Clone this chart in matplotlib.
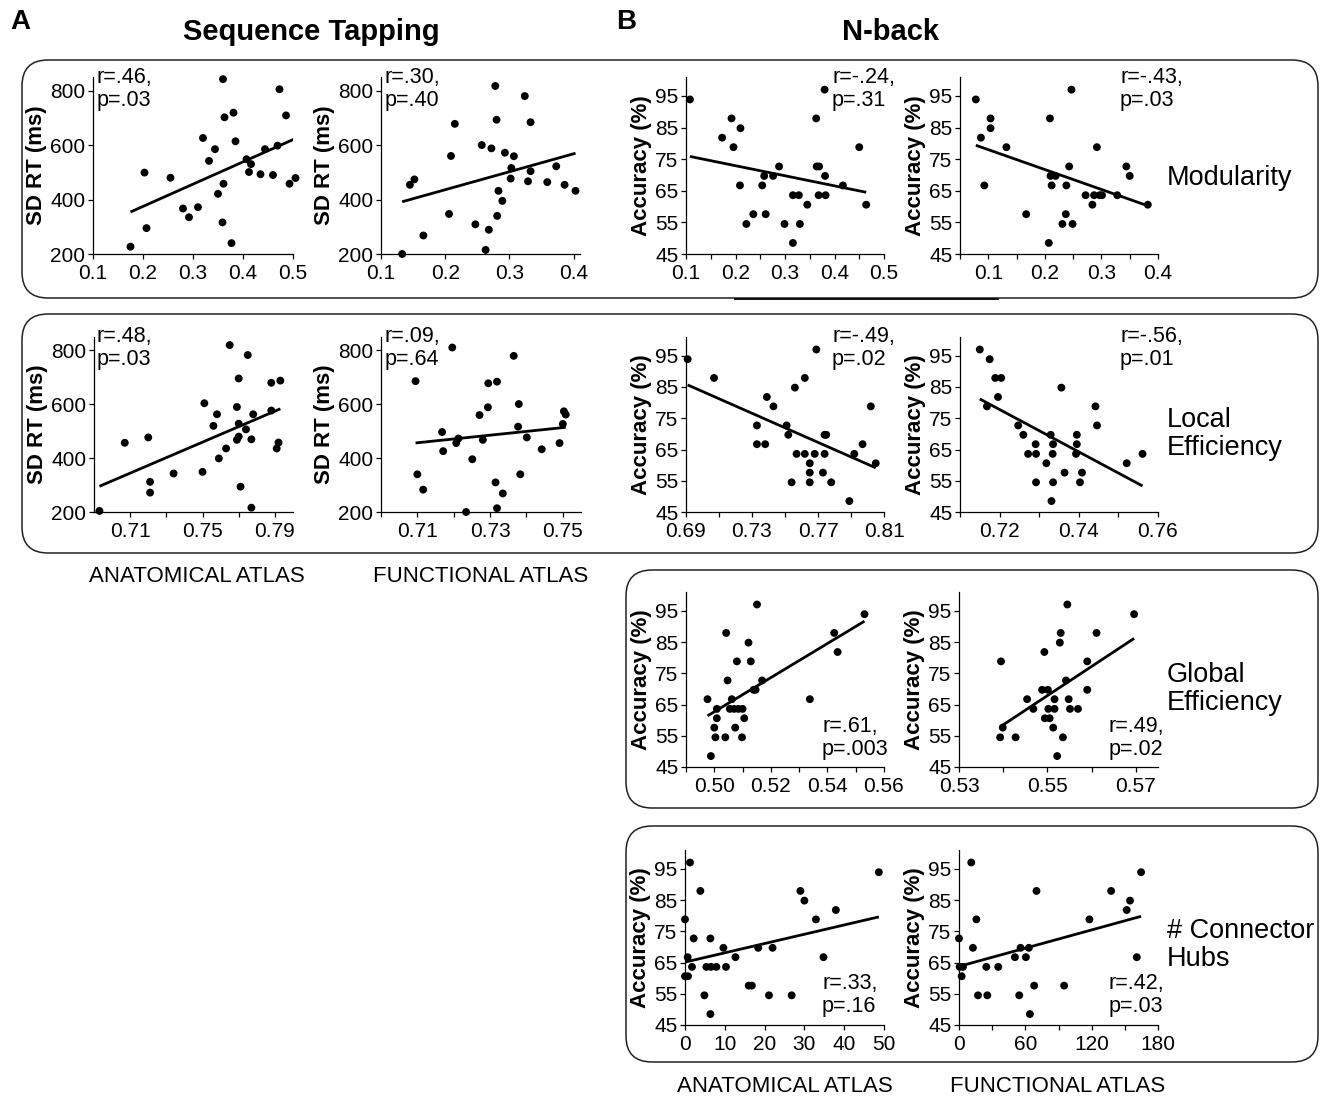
import numpy as np
import matplotlib.pyplot as plt
from matplotlib.patches import FancyBboxPatch

plt.rcParams['font.family'] = ['Liberation Sans', 'DejaVu Sans']

W, H = 1332, 1099

# ---- Sequence tapping (SD RT, ms) ----
seq_mod_anat_x = [0.175, 0.207, 0.203, 0.255, 0.280, 0.292, 0.310, 0.320, 0.332, 0.344, 0.350, 0.360, 0.363, 0.361, 0.359,
                  0.377, 0.381, 0.385, 0.407, 0.416, 0.412, 0.435, 0.444, 0.460, 0.469, 0.473, 0.486, 0.493, 0.505]
seq_mod_anat_y = [227, 295, 499, 480, 367, 335, 372, 626, 542, 585, 421, 842, 702, 458, 316,
                  240, 719, 614, 548, 530, 501, 493, 585, 490, 598, 805, 709, 458, 479]

seq_mod_func_x = [0.133, 0.145, 0.152, 0.166, 0.206, 0.209, 0.215, 0.247, 0.257, 0.263, 0.268, 0.272, 0.278, 0.280, 0.281,
                  0.283, 0.289, 0.293, 0.303, 0.302, 0.307, 0.324, 0.329, 0.333, 0.333, 0.359, 0.373, 0.386, 0.403]
seq_mod_func_y = [200, 454, 474, 268, 347, 560, 678, 309, 600, 215, 289, 588, 817, 693, 340,
                  432, 395, 572, 516, 477, 559, 780, 467, 684, 504, 464, 522, 454, 432]

seq_loc_anat_x = [0.693, 0.707, 0.720, 0.721, 0.721, 0.734, 0.750, 0.751, 0.756, 0.758, 0.759, 0.763, 0.765, 0.769, 0.770,
                  0.770, 0.769, 0.770, 0.771, 0.774, 0.775, 0.777, 0.778, 0.777, 0.788, 0.788, 0.791, 0.792, 0.793]
seq_loc_anat_y = [204, 457, 477, 312, 272, 343, 349, 604, 520, 563, 399, 436, 820, 590, 528,
                  480, 468, 696, 294, 507, 783, 470, 563, 216, 680, 577, 436, 458, 688]

seq_loc_func_x = [0.7095, 0.7100, 0.7116, 0.7168, 0.7171, 0.7196, 0.7207, 0.7213, 0.7234, 0.7251, 0.7271, 0.7280, 0.7294, 0.7295,
                  0.7315, 0.7319, 0.7319, 0.7335, 0.7365, 0.7377, 0.7379, 0.7383, 0.7401, 0.7442, 0.7491, 0.7500, 0.7503, 0.7508]
seq_loc_func_y = [686, 340, 283, 497, 426, 811, 456, 473, 200, 396, 560, 468, 589, 678,
                  310, 684, 214, 269, 780, 517, 601, 340, 477, 433, 456, 527, 574, 562]

# ---- N-back (accuracy, %) ----
nb_mod_anat_x = [0.108, 0.173, 0.192, 0.196, 0.210, 0.209, 0.222, 0.236, 0.254, 0.258, 0.261, 0.276, 0.288, 0.299, 0.316,
                 0.316, 0.328, 0.330, 0.345, 0.363, 0.364, 0.369, 0.368, 0.380, 0.381, 0.382, 0.417, 0.450, 0.464]
nb_mod_anat_y = [93.9, 81.8, 87.9, 78.8, 84.8, 66.7, 54.5, 57.6, 66.7, 69.7, 57.6, 69.7, 72.7, 54.5, 63.6,
                 48.5, 63.6, 54.5, 60.6, 87.9, 72.7, 72.7, 63.6, 97.0, 69.7, 63.6, 66.7, 78.8, 60.6]

nb_mod_func_x = [0.078, 0.087, 0.093, 0.104, 0.104, 0.132, 0.167, 0.207, 0.209, 0.210, 0.212, 0.219, 0.231, 0.237,
                 0.238, 0.243, 0.247, 0.249, 0.272, 0.284, 0.287, 0.292, 0.297, 0.301, 0.328, 0.344, 0.350, 0.382]
nb_mod_func_y = [93.9, 81.8, 66.7, 87.9, 84.8, 78.8, 57.6, 48.5, 87.9, 69.7, 66.7, 69.7, 54.5, 57.6,
                 66.7, 72.7, 97.0, 54.5, 63.6, 60.6, 63.6, 78.8, 63.6, 63.6, 63.6, 72.7, 69.7, 60.6]

nb_loc_anat_x = [0.691, 0.707, 0.733, 0.733, 0.738, 0.739, 0.743, 0.751, 0.752, 0.754, 0.756, 0.757, 0.762, 0.762, 0.765,
                 0.765, 0.765, 0.768, 0.769, 0.774, 0.775, 0.774, 0.773, 0.778, 0.789, 0.792, 0.797, 0.802, 0.805]
nb_loc_anat_y = [93.9, 87.9, 72.7, 66.7, 66.7, 81.8, 78.8, 72.7, 69.7, 54.5, 84.8, 63.6, 87.9, 63.6, 60.6,
                 57.6, 54.5, 63.6, 97.0, 69.7, 69.7, 63.6, 57.6, 54.5, 48.5, 63.6, 66.7, 78.8, 60.6]

nb_loc_func_x = [0.7150, 0.7175, 0.7168, 0.7189, 0.7204, 0.7196, 0.7247, 0.7260, 0.7272, 0.7291, 0.7292, 0.7292, 0.7318, 0.7329,
                 0.7331, 0.7334, 0.7335, 0.7335, 0.7356, 0.7364, 0.7395, 0.7395, 0.7393, 0.7403, 0.7408, 0.7442, 0.7446,
                 0.7521, 0.7561]
nb_loc_func_y = [97.0, 93.9, 78.8, 87.9, 87.9, 81.8, 72.7, 69.7, 63.6, 66.7, 63.6, 54.5, 60.6, 69.7,
                 48.5, 63.6, 66.7, 54.5, 84.8, 57.6, 69.7, 66.7, 63.6, 54.5, 57.6, 78.8, 72.7, 60.6, 63.6]

nb_glob_anat_x = [0.4976, 0.4988, 0.5000, 0.5004, 0.5009, 0.5009, 0.5039, 0.5042, 0.5047, 0.5062, 0.5055, 0.5070, 0.5085, 0.5074,
                  0.5080, 0.5100, 0.5098, 0.5106, 0.5121, 0.5129, 0.5139, 0.5146, 0.5151, 0.5169, 0.5338, 0.5424, 0.5436, 0.5531]
nb_glob_anat_y = [66.7, 48.5, 57.6, 54.5, 63.6, 60.6, 54.5, 87.9, 72.7, 66.7, 63.6, 63.6, 63.6, 57.6,
                  78.8, 63.6, 54.5, 60.6, 84.8, 78.8, 69.7, 69.7, 97.0, 72.7, 66.7, 87.9, 81.8, 93.9]

nb_glob_func_x = [0.5393, 0.5395, 0.5399, 0.5428, 0.5454, 0.5468, 0.5488, 0.5493, 0.5494, 0.5501, 0.5502, 0.5505, 0.5513, 0.5516,
                  0.5516, 0.5522, 0.5528, 0.5530, 0.5535, 0.5542, 0.5545, 0.5548, 0.5551, 0.5569, 0.5590, 0.5590, 0.5611, 0.5696]
nb_glob_func_y = [54.5, 78.8, 57.6, 54.5, 66.7, 63.6, 69.7, 81.8, 60.6, 69.7, 63.6, 60.6, 57.6, 66.7,
                  63.6, 48.5, 84.8, 87.9, 54.5, 72.7, 97.0, 66.7, 63.6, 63.6, 78.8, 69.7, 87.9, 93.9]

nb_hub_anat_x = [0, 0, 0.75, 0.67, 1.26, 1.76, 2.18, 3.86, 4.87, 5.37, 6.38, 6.38, 6.54, 7.89, 9.65,
                 10.3, 12.67, 16.0, 16.8, 18.4, 21.1, 22.0, 26.8, 29.0, 30.0, 32.9, 34.8, 37.9, 48.7]
nb_hub_anat_y = [78.8, 60.6, 60.6, 66.7, 97.0, 63.6, 72.7, 87.9, 54.5, 63.6, 72.7, 48.5, 63.6, 63.6, 69.7,
                 63.6, 66.7, 57.6, 57.6, 69.7, 54.5, 69.7, 54.5, 87.9, 84.8, 78.8, 66.7, 81.8, 93.9]

nb_hub_func_x = [0, 0.6, 2.4, 3.6, 11.1, 12.6, 15.7, 17.2, 24.7, 25.6, 35.5, 50.6, 54.5, 55.7, 60.5, 63.2, 64.1,
                 68.0, 70.1, 95.1, 118.0, 137.6, 151.7, 154.7, 160.8, 164.7]
nb_hub_func_y = [72.7, 63.6, 60.6, 63.6, 97.0, 69.7, 78.8, 54.5, 63.6, 54.5, 63.6, 66.7, 54.5, 69.7, 66.7, 69.7, 48.5,
                 57.6, 87.9, 57.6, 78.8, 87.9, 81.8, 84.8, 66.7, 93.9]

rt_ticks = [200, 400, 600, 800]
acc_ticks = [45, 55, 65, 75, 85, 95]

fig = plt.figure(figsize=(W / 100, H / 100), dpi=100)

# overlay in pixel coordinates for boxes and free text
bg = fig.add_axes([0, 0, 1, 1], zorder=0)
bg.set_xlim(0, W)
bg.set_ylim(H, 0)
bg.axis('off')

for (x0, y0, x1, y1) in [(22, 60, 1318, 298), (22, 314, 1318, 553),
                         (626, 570, 1318, 808), (626, 826, 1318, 1062)]:
    bg.add_patch(FancyBboxPatch((x0, y0), x1 - x0, y1 - y0,
                                boxstyle="round,pad=0,rounding_size=26",
                                fc='none', ec='#222222', lw=1.1))
bg.plot([735, 998], [299, 299], color='k', lw=1.3)


def add_panel(box, x, y, xlim, xticks, xlabels, kind, stat, stat_xy):
    l, t, r, b = box
    ax = fig.add_axes([l / W, 1 - b / H, (r - l) / W, (b - t) / H], zorder=2)
    ax.set_facecolor('none')
    x = np.asarray(x)
    y = np.asarray(y)
    ax.scatter(x, y, s=32, c='k', edgecolors='none', zorder=3, clip_on=False)
    k, c = np.polyfit(x, y, 1)
    xs = np.array([x.min(), x.max()])
    ax.plot(xs, k * xs + c, color='k', lw=2, solid_capstyle='butt')
    ax.set_xlim(*xlim)
    ax.set_xticks(xticks)
    ax.set_xticklabels(xlabels)
    if kind == 'rt':
        ax.set_ylim(200, 850)
        ax.set_yticks(rt_ticks)
        ax.set_ylabel('SD RT (ms)', fontsize=16, fontweight='bold', labelpad=2)
    else:
        ax.set_ylim(45, 101)
        ax.set_yticks(acc_ticks)
        ax.set_ylabel('Accuracy (%)', fontsize=16, fontweight='bold', labelpad=2)
    for s in ['top', 'right']:
        ax.spines[s].set_visible(False)
    for s in ['left', 'bottom']:
        ax.spines[s].set_linewidth(0.9)
    ax.tick_params(direction='out', length=3.5, width=0.9, labelsize=15)
    ax.tick_params(axis='x', pad=4)
    ax.tick_params(axis='y', pad=2)
    bg.text(stat_xy[0], stat_xy[1], stat, fontsize=15.5, va='top', ha='left', linespacing=1.1)
    return ax


# row 1: modularity
add_panel((93, 77, 293, 254), seq_mod_anat_x, seq_mod_anat_y, (0.1, 0.5),
          [0.1, 0.2, 0.3, 0.4, 0.5], ['0.1', '0.2', '0.3', '0.4', '0.5'], 'rt', 'r=.46,\np=.03', (97, 67))
add_panel((381, 77, 580, 254), seq_mod_func_x, seq_mod_func_y, (0.1, 0.41),
          [0.1, 0.2, 0.3, 0.4], ['0.1', '0.2', '0.3', '0.4'], 'rt', 'r=.30,\np=.40', (385, 67))
add_panel((686, 77, 884, 254), nb_mod_anat_x, nb_mod_anat_y, (0.1, 0.5),
          [0.1, 0.15, 0.2, 0.25, 0.3, 0.35, 0.4, 0.45, 0.5],
          ['0.1', '', '0.2', '', '0.3', '', '0.4', '', '0.5'], 'acc', 'r=-.24,\np=.31', (832, 67))
add_panel((960, 77, 1158, 254), nb_mod_func_x, nb_mod_func_y, (0.05, 0.4),
          [0.05, 0.1, 0.15, 0.2, 0.25, 0.3, 0.35, 0.4],
          ['', '0.1', '', '0.2', '', '0.3', '', '0.4'], 'acc', 'r=-.43,\np=.03', (1120, 67))

# row 2: local efficiency
add_panel((94, 337, 293, 512), seq_loc_anat_x, seq_loc_anat_y, (0.69, 0.80),
          [0.71, 0.73, 0.75, 0.77, 0.79], ['0.71', '', '0.75', '', '0.79'], 'rt', 'r=.48,\np=.03', (97, 326))
add_panel((381, 337, 581, 512), seq_loc_func_x, seq_loc_func_y, (0.70, 0.755),
          [0.70, 0.71, 0.72, 0.73, 0.74, 0.75], ['', '0.71', '', '0.73', '', '0.75'], 'rt', 'r=.09,\np=.64', (385, 326))
add_panel((686, 337, 884, 512), nb_loc_anat_x, nb_loc_anat_y, (0.69, 0.81),
          [0.69, 0.71, 0.73, 0.75, 0.77, 0.79, 0.81], ['0.69', '', '0.73', '', '0.77', '', '0.81'], 'acc',
          'r=-.49,\np=.02', (832, 326))
add_panel((960, 337, 1158, 512), nb_loc_func_x, nb_loc_func_y, (0.71, 0.76),
          [0.71, 0.72, 0.73, 0.74, 0.75, 0.76], ['', '0.72', '', '0.74', '', '0.76'], 'acc',
          'r=-.56,\np=.01', (1120, 326))

# row 3: global efficiency
add_panel((686, 592, 884, 767), nb_glob_anat_x, nb_glob_anat_y, (0.49, 0.56),
          [0.49, 0.50, 0.51, 0.52, 0.53, 0.54, 0.55, 0.56], ['', '0.50', '', '0.52', '', '0.54', '', '0.56'], 'acc',
          'r=.61,\np=.003', (822, 716))
add_panel((959, 592, 1158, 767), nb_glob_func_x, nb_glob_func_y, (0.53, 0.575),
          [0.53, 0.54, 0.55, 0.56, 0.57], ['0.53', '', '0.55', '', '0.57'], 'acc',
          'r=.49,\np=.02', (1109, 716))

# row 4: connector hubs
add_panel((685, 850, 884, 1025), nb_hub_anat_x, nb_hub_anat_y, (0, 50),
          [0, 10, 20, 30, 40, 50], ['0', '10', '20', '30', '40', '50'], 'acc',
          'r=.33,\np=.16', (822, 973))
add_panel((959, 850, 1158, 1025), nb_hub_func_x, nb_hub_func_y, (0, 180),
          [0, 30, 60, 90, 120, 150, 180], ['0', '', '60', '', '120', '', '180'], 'acc',
          'r=.42,\np=.03', (1109, 973))

# titles and labels
bg.text(10, 22, 'A', fontsize=20, fontweight='bold', va='center', ha='left')
bg.text(616, 22, 'B', fontsize=20, fontweight='bold', va='center', ha='left')
bg.text(311, 32, 'Sequence Tapping', fontsize=21, fontweight='bold', va='center', ha='center')
bg.text(890, 32, 'N-back', fontsize=21, fontweight='bold', va='center', ha='center')

for txt, yy in [('Modularity', 178), ('Local\nEfficiency', 434),
                ('Global\nEfficiency', 689), ('# Connector\nHubs', 945)]:
    bg.text(1167, yy, txt, fontsize=19.5, va='center', ha='left', linespacing=1.1)

bg.text(197, 577, 'ANATOMICAL ATLAS', fontsize=16, va='center', ha='center')
bg.text(481, 577, 'FUNCTIONAL ATLAS', fontsize=16, va='center', ha='center')
bg.text(785, 1086, 'ANATOMICAL ATLAS', fontsize=16, va='center', ha='center')
bg.text(1058, 1086, 'FUNCTIONAL ATLAS', fontsize=16, va='center', ha='center')

fig.savefig('out.png', dpi=100)
